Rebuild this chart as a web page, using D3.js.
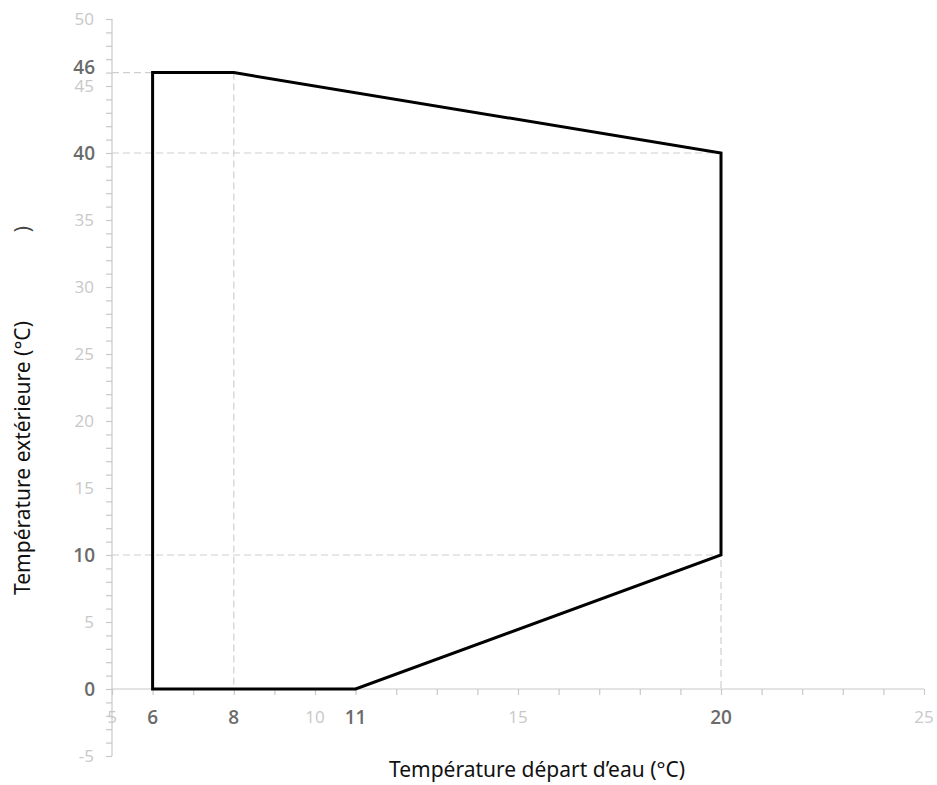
<!DOCTYPE html>
<html>
<head>
<meta charset="utf-8">
<script src="https://cdn.jsdelivr.net/npm/d3@7"></script>
<style>
  body { margin: 0; background: #fff; }
  svg { display: block; }
</style>
</head>
<body>
<svg></svg>
<script>
'use strict'

// operating envelope (x = water outlet temp, y = outdoor temp)
const envelopeX = [6, 6, 8, 20, 20, 11]
const envelopeY = [0, 46, 46, 40, 10, 0]

const xLabelsLight = [5, 10, 15, 25]
const xLabelsDark = [6, 8, 11, 20]
const yLabelsLight = [-5, 5, 15, 20, 25, 30, 35, 45, 50]
const yLabelsDark = [0, 10, 40, 46]

// dashed reference lines: horizontal [y, xEnd], vertical [x, yTop]
const hGuides = [[46, 8], [40, 20], [10, 20]]
const vGuides = [[8, 46], [20, 40]]

const width = 937,
  height = 785

const svg = d3.select('svg').attr('width', width).attr('height', height)

const x = d3.scaleLinear().domain([5, 25]).range([112, 924])
const y = d3.scaleLinear().domain([-5, 50]).range([756, 19])

const light = '#c8c8c8',
  dark = '#6b6b6b'

// dashed guides
svg
  .append('g')
  .selectAll('line')
  .data(hGuides)
  .join('line')
  .attr('x1', x(5))
  .attr('x2', d => x(d[1]))
  .attr('y1', d => y(d[0]))
  .attr('y2', d => y(d[0]))
  .attr('stroke', '#cfcfcf')
  .attr('stroke-width', 1.2)
  .attr('stroke-dasharray', '7,4')

svg
  .append('g')
  .selectAll('line')
  .data(vGuides)
  .join('line')
  .attr('x1', d => x(d[0]))
  .attr('x2', d => x(d[0]))
  .attr('y1', d => y(d[1]))
  .attr('y2', y(0))
  .attr('stroke', '#cfcfcf')
  .attr('stroke-width', 1.2)
  .attr('stroke-dasharray', '7,4')

// y axis, minor ticks every unit
const yAxis = svg
  .append('g')
  .attr('transform', 'translate(' + x(5) + ',0)')
  .call(
    d3
      .axisLeft(y)
      .tickValues(d3.range(-5, 51))
      .tickSize(6)
      .tickFormat('')
  )
yAxis.selectAll('path, line').attr('stroke', light).attr('stroke-width', 1.2)
yAxis.select('path').attr('d', 'M0,' + y(-5) + 'V' + y(50))

// x axis at y = 0
const xAxis = svg
  .append('g')
  .attr('transform', 'translate(0,' + y(0) + ')')
  .call(
    d3
      .axisBottom(x)
      .tickValues(d3.range(5, 26))
      .tickSize(6)
      .tickFormat('')
  )
xAxis.selectAll('path, line').attr('stroke', light).attr('stroke-width', 1.2)
xAxis.select('path').attr('d', 'M' + x(5) + ',0H' + x(25))

// tick labels
svg
  .append('g')
  .selectAll('text')
  .data(yLabelsLight)
  .join('text')
  .attr('x', 94)
  .attr('y', d => y(d))
  .attr('dy', '0.36em')
  .attr('text-anchor', 'end')
  .style('font', '17px "Open Sans", sans-serif')
  .style('fill', light)
  .text(d => d)

svg
  .append('g')
  .selectAll('text')
  .data(yLabelsDark)
  .join('text')
  .attr('x', 95)
  .attr('y', d => (d === 46 ? y(d) - 5 : y(d)))
  .attr('dy', '0.36em')
  .attr('text-anchor', 'end')
  .style('font', '600 19px "Open Sans", sans-serif')
  .style('fill', dark)
  .text(d => d)

svg
  .append('g')
  .selectAll('text')
  .data(xLabelsLight)
  .join('text')
  .attr('x', d => x(d))
  .attr('y', 723)
  .attr('text-anchor', 'middle')
  .style('font', '17px "Open Sans", sans-serif')
  .style('fill', light)
  .text(d => d)

svg
  .append('g')
  .selectAll('text')
  .data(xLabelsDark)
  .join('text')
  .attr('x', d => x(d))
  .attr('y', 724)
  .attr('text-anchor', 'middle')
  .style('font', '600 19px "Open Sans", sans-serif')
  .style('fill', dark)
  .text(d => d)

// envelope
const pts = envelopeX.map((v, i) => [x(v), y(envelopeY[i])])
svg
  .append('path')
  .attr('d', d3.line()(pts) + 'Z')
  .attr('fill', 'none')
  .attr('stroke', '#000')
  .attr('stroke-width', 3)
  .attr('stroke-linejoin', 'miter')

// axis titles
svg
  .append('text')
  .attr('x', 537)
  .attr('y', 777)
  .attr('text-anchor', 'middle')
  .style('font', '21px "Noto Sans", sans-serif')
  .style('fill', '#111')
  .text('Température départ d’eau (°C)')

svg
  .append('text')
  .attr('transform', 'translate(30,458) rotate(-90)')
  .attr('text-anchor', 'middle')
  .style('font', '21px "Noto Sans", sans-serif')
  .style('fill', '#111')
  .text('Température extérieure (°C)')

// stray glyph left over in the original
svg
  .append('text')
  .attr('transform', 'translate(30,229) rotate(-90)')
  .attr('text-anchor', 'middle')
  .style('font', '21px "Noto Sans", sans-serif')
  .style('fill', '#444')
  .text(')')
</script>
</body>
</html>
